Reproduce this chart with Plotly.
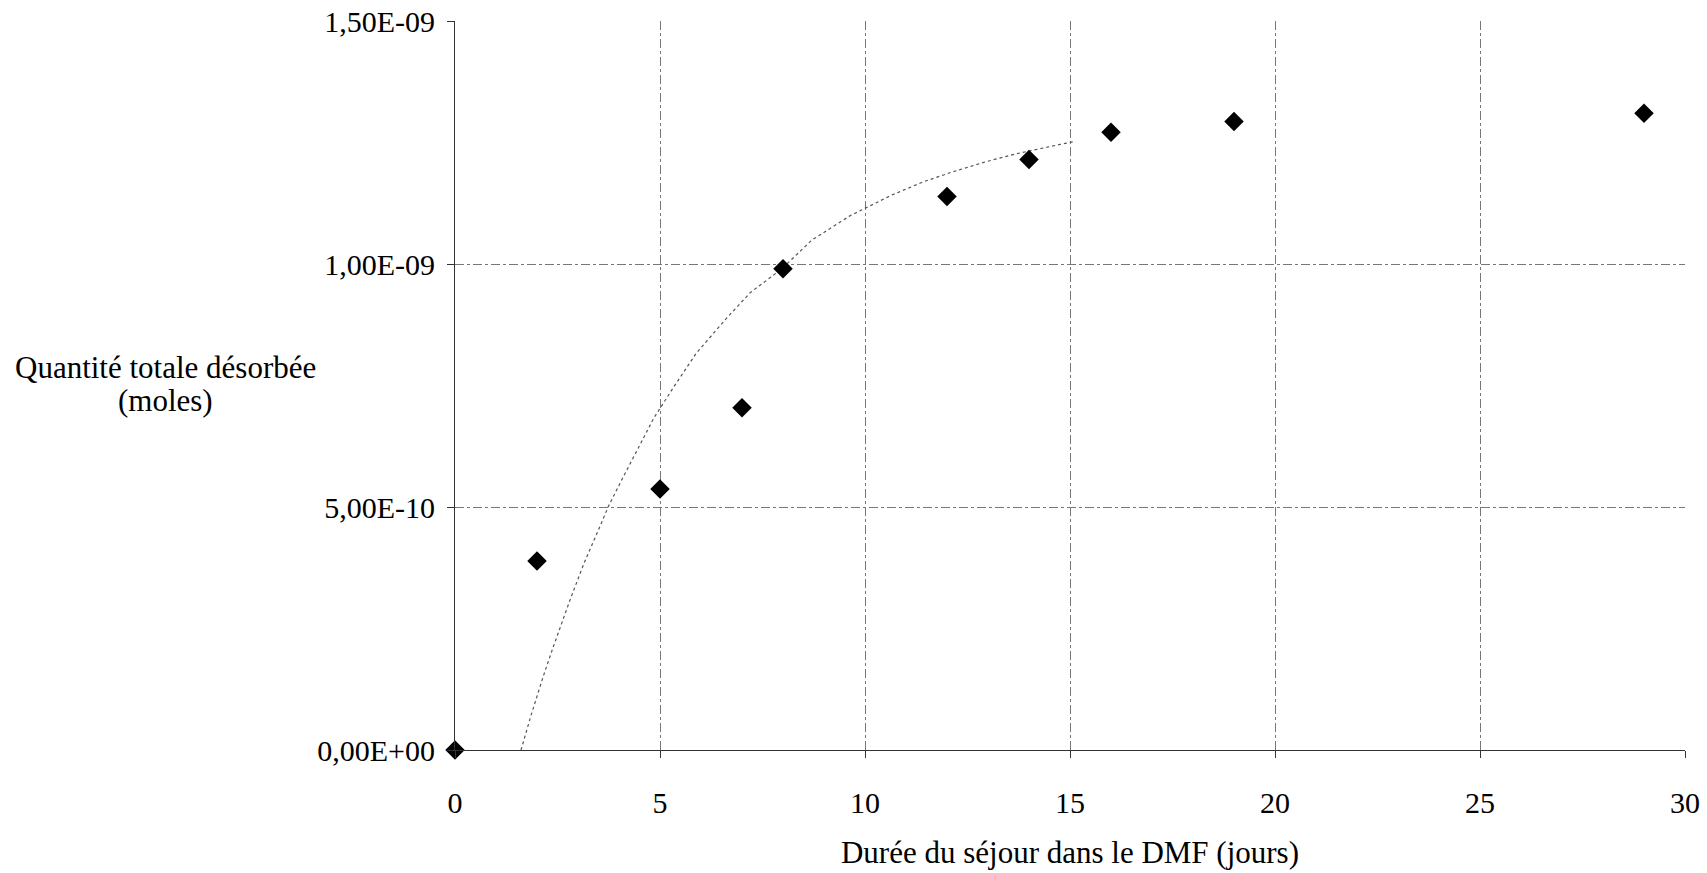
import plotly.graph_objects as go

# Measured data (days, moles)
days = [0, 2, 5, 7, 8, 12, 14, 16, 19, 29]
moles = [0.0, 3.89e-10, 5.37e-10, 7.04e-10, 9.90e-10, 1.139e-9, 1.215e-9, 1.271e-9, 1.293e-9, 1.310e-9]

# Dotted trend curve
trend_x = [1.61, 1.85, 2.15, 2.40, 2.82, 3.15, 3.54, 3.74, 4.08, 4.39, 4.70, 4.85, 5.32, 5.89,
           6.63, 7.20, 7.97, 8.70, 9.63, 10.63, 11.42, 12.15, 12.93, 13.70, 14.76, 15.1]
trend_y = [0.0, 0.70e-10, 1.51e-10, 2.13e-10, 3.12e-10, 3.85e-10, 4.61e-10, 5.01e-10, 5.58e-10,
           6.08e-10, 6.56e-10, 6.83e-10, 7.45e-10, 8.17e-10, 8.89e-10, 9.41e-10, 9.90e-10,
           10.49e-10, 10.99e-10, 11.41e-10, 11.69e-10, 11.90e-10, 12.10e-10, 12.27e-10,
           12.46e-10, 12.52e-10]

x_ticks = [0, 5, 10, 15, 20, 25, 30]
y_tickvals = [0, 5e-10, 1e-9, 1.5e-9]
y_ticktext = ["0,00E+00", "5,00E-10", "1,00E-09", "1,50E-09"]
y_title_lines = ["Quantité totale désorbée", "(moles)"]

FONT = "Liberation Serif, Times New Roman, serif"

fig = go.Figure()
fig.add_trace(go.Scatter(
    x=trend_x, y=trend_y, mode="lines",
    line=dict(color="#555555", width=1.2, dash="dot"),
    hoverinfo="skip", showlegend=False, cliponaxis=False,
))
fig.add_trace(go.Scatter(
    x=days, y=moles, mode="markers",
    marker=dict(symbol="diamond", size=15, color="black"),
    showlegend=False, cliponaxis=False,
))

annots = []
for i, line in enumerate(y_title_lines):
    annots.append(dict(
        text=line, xref="paper", yref="paper",
        x=(165 - 455) / 1230, y=(750 - (367 + 33 * i)) / 729,
        xanchor="center", yanchor="middle",
        showarrow=False, align="center", font=dict(family=FONT, size=31),
    ))

fig.update_layout(
    width=1707, height=873,
    margin=dict(l=455, r=22, t=21, b=123),
    paper_bgcolor="white", plot_bgcolor="white",
    font=dict(family=FONT, size=30, color="black"),
    xaxis=dict(
        range=[0, 30], tickvals=x_ticks, ticktext=[str(v) for v in x_ticks],
        automargin=False,
        showgrid=True, gridcolor="#777777", gridwidth=1, griddash="dashdot",
        zeroline=False, showline=True, linecolor="#333333", linewidth=1,
        ticks="outside", ticklen=7, tickcolor="#333333", ticklabelstandoff=19,
        tickfont=dict(family=FONT, size=30),
        title=dict(text="Durée du séjour dans le DMF (jours)", font=dict(family=FONT, size=31), standoff=23),
    ),
    yaxis=dict(
        range=[0, 1.5e-9], tickvals=y_tickvals, ticktext=y_ticktext,
        automargin=False,
        showgrid=True, gridcolor="#777777", gridwidth=1, griddash="dashdot",
        zeroline=False, showline=True, linecolor="#333333", linewidth=1,
        ticks="outside", ticklen=7, tickcolor="#333333", ticklabelstandoff=6,
        tickfont=dict(family=FONT, size=30),
    ),
    annotations=annots,
)

fig.write_html("out.html", config={"displayModeBar": False},
               post_script="document.body.style.margin='0';document.body.style.overflow='hidden';")
